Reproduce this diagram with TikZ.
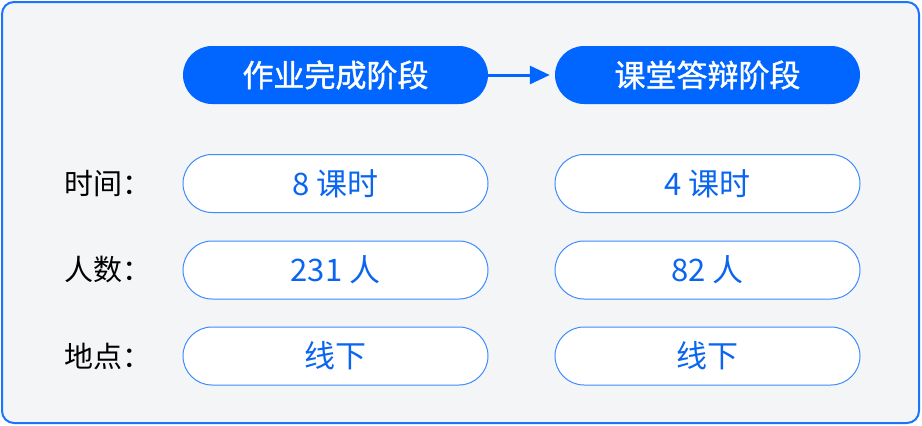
\documentclass[tikz,border=0pt]{standalone}
\usepackage{fontspec}
\newfontfamily\cjk{Noto Sans CJK SC}
\newfontfamily\cjkmed[FakeBold=1.2]{Noto Sans CJK SC}
\usetikzlibrary{arrows.meta}
\definecolor{mainblue}{HTML}{0066FF}
\definecolor{lineblue}{HTML}{3D8BFF}
\definecolor{textblue}{HTML}{0A66F0}
\definecolor{panel}{HTML}{F4F5F7}

\begin{document}
\begin{tikzpicture}[x=1pt,y=-1pt]

      \useasboundingbox (0,0) rectangle (922,426);
      \draw[rounded corners=12pt,line width=2pt,draw=mainblue!90,fill=panel] (2,2) rectangle (919,423);

      \begin{scope}[every node/.style={rectangle,rounded corners=29pt,minimum width=305pt,minimum height=58pt,inner sep=0pt,font=\cjkmed\fontsize{31}{31}\selectfont}]
        \node[fill=mainblue,text=white] (work) at (335.5,75) {作业完成阶段};
        \node[fill=mainblue,text=white] (defense) at (707.5,75) {课堂答辩阶段};

        \begin{scope}[every node/.append style={fill=white,draw=lineblue,line width=1pt,text=textblue,font=\cjk\fontsize{31}{31}\selectfont}]
          \node (time1) at (335.5,183.5) {8 课时};
          \node (time2) at (707.5,183.5) {4 课时};
          \node (num1) at (335.5,270) {231 人};
          \node (num2) at (707.5,270) {82 人};
          \node (place1) at (335.5,356) {线下};
          \node (place2) at (707.5,356) {线下};
        \end{scope}
      \end{scope}

      \begin{scope}[every node/.style={font=\cjk\fontsize{29}{29}\selectfont,text=black}]
        \node (timelabel) at (108,183.5) {时间：};
        \node (numlabel) at (108,270) {人数：};
        \node (placelabel) at (108,356) {地点：};
      \end{scope}

      \draw[mainblue,line width=3pt,shorten >=5pt,-{Triangle[length=20pt,width=18pt]}] (work) -- (defense);

    \end{tikzpicture}
\end{document}
